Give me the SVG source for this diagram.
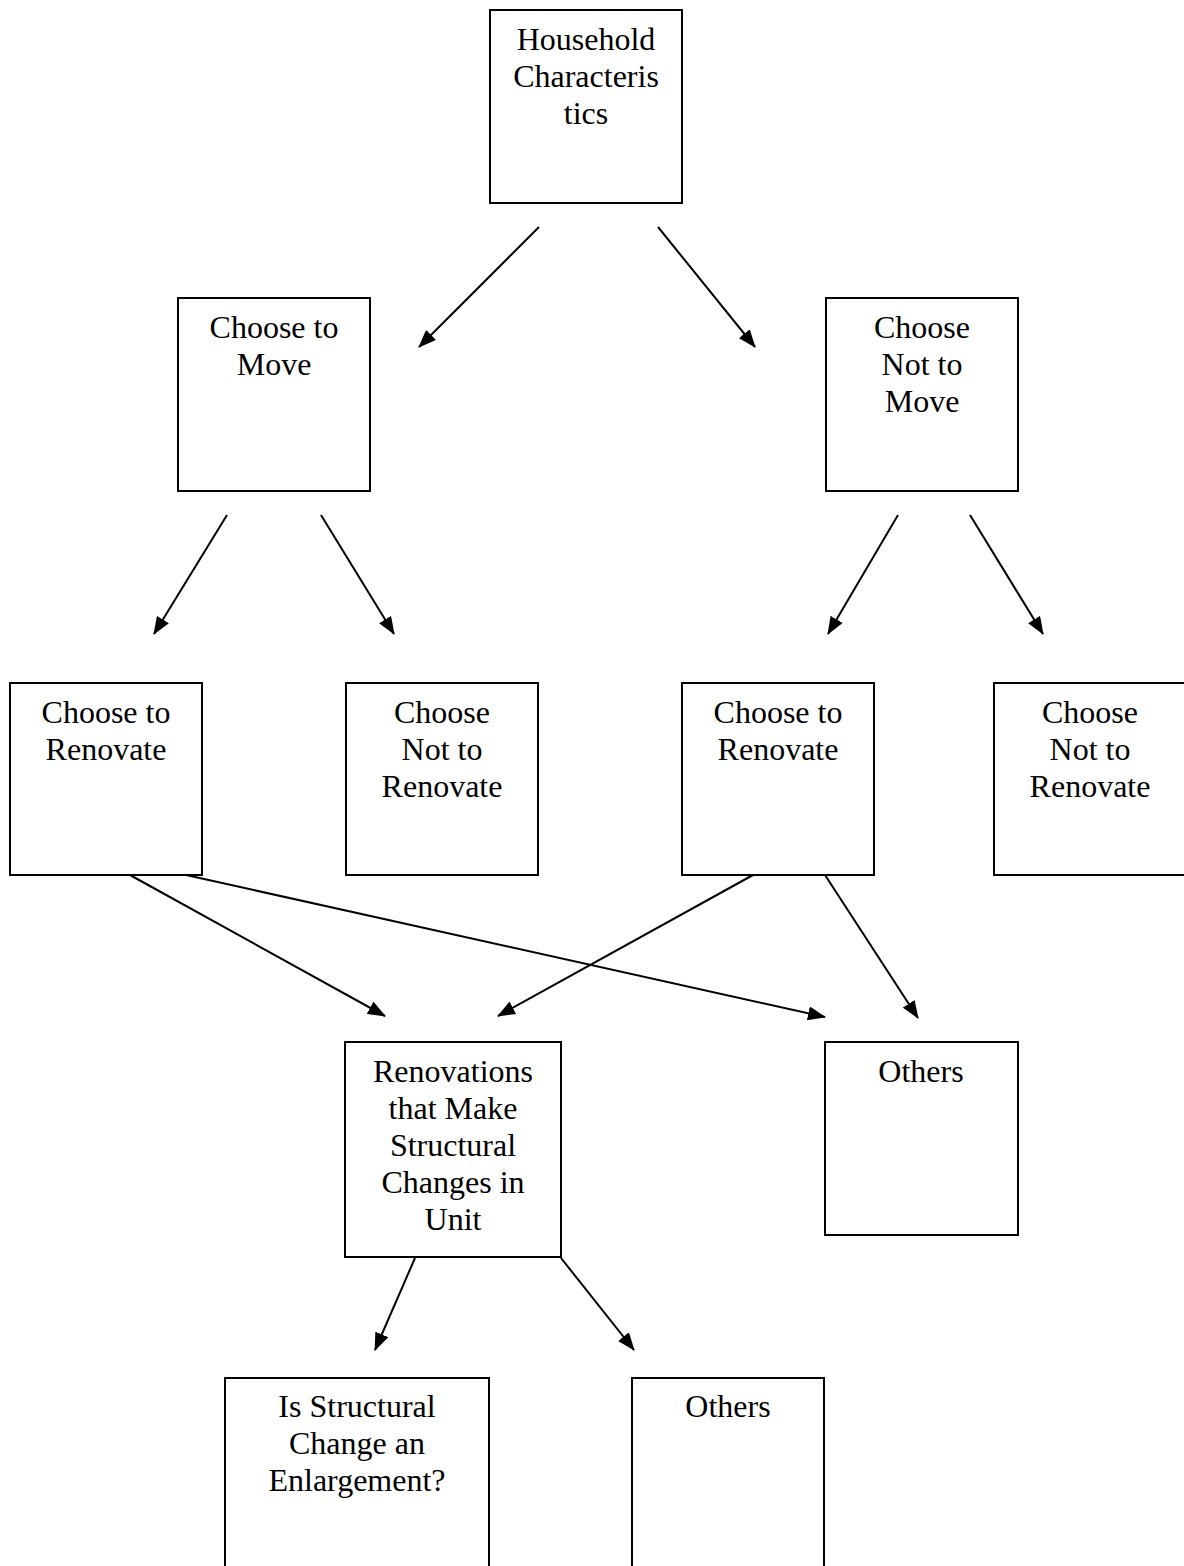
<svg xmlns="http://www.w3.org/2000/svg" width="1184" height="1566" viewBox="0 0 1184 1566">
<style>
.box{fill:#fff;stroke:#000;stroke-width:2}
.lbl{font-family:"Liberation Serif","Times New Roman","DejaVu Serif",serif;font-size:32px;fill:#000;text-anchor:middle}
.edge{stroke:#000;stroke-width:2;fill:none;marker-end:url(#ah)}
</style>
<defs>
<marker id="ah" markerWidth="18" markerHeight="14" refX="17" refY="7" orient="auto" markerUnits="userSpaceOnUse">
<path d="M0,0 L18,7 L0,14 z" fill="#000"/>
</marker>
</defs>
<rect width="1184" height="1566" fill="#fff"/>
<g id="connectors">
<line class="edge" x1="539" y1="227" x2="419" y2="347"/>
<line class="edge" x1="658" y1="227" x2="755" y2="347"/>
<line class="edge" x1="227" y1="515" x2="154" y2="634"/>
<line class="edge" x1="321" y1="515" x2="394" y2="634"/>
<line class="edge" x1="898" y1="515" x2="828" y2="634"/>
<line class="edge" x1="970" y1="515" x2="1043" y2="634"/>
<line class="edge" x1="130" y1="875" x2="385" y2="1016"/>
<line class="edge" x1="177" y1="873" x2="825" y2="1017"/>
<line class="edge" x1="753" y1="875" x2="498" y2="1016"/>
<line class="edge" x1="825" y1="875" x2="918" y2="1018"/>
<line class="edge" x1="415" y1="1258" x2="375" y2="1350"/>
<line class="edge" x1="561" y1="1258" x2="634" y2="1350"/>
</g>
<g id="household">
<rect class="box" x="490" y="10" width="192" height="193"/>
<text class="lbl" x="586" y="50">Household</text>
<text class="lbl" x="586" y="87">Characteris</text>
<text class="lbl" x="586" y="124">tics</text>
</g>
<g id="move">
<rect class="box" x="178" y="298" width="192" height="193"/>
<text class="lbl" x="274" y="338">Choose to</text>
<text class="lbl" x="274" y="375">Move</text>
</g>
<g id="notmove">
<rect class="box" x="826" y="298" width="192" height="193"/>
<text class="lbl" x="922" y="338">Choose</text>
<text class="lbl" x="922" y="375">Not to</text>
<text class="lbl" x="922" y="412">Move</text>
</g>
<g id="renovate1">
<rect class="box" x="10" y="683" width="192" height="192"/>
<text class="lbl" x="106" y="723">Choose to</text>
<text class="lbl" x="106" y="760">Renovate</text>
</g>
<g id="notrenovate1">
<rect class="box" x="346" y="683" width="192" height="192"/>
<text class="lbl" x="442" y="723">Choose</text>
<text class="lbl" x="442" y="760">Not to</text>
<text class="lbl" x="442" y="797">Renovate</text>
</g>
<g id="renovate2">
<rect class="box" x="682" y="683" width="192" height="192"/>
<text class="lbl" x="778" y="723">Choose to</text>
<text class="lbl" x="778" y="760">Renovate</text>
</g>
<g id="notrenovate2">
<rect class="box" x="994" y="683" width="192" height="192"/>
<text class="lbl" x="1090" y="723">Choose</text>
<text class="lbl" x="1090" y="760">Not to</text>
<text class="lbl" x="1090" y="797">Renovate</text>
</g>
<g id="structural">
<rect class="box" x="345" y="1042" width="216" height="215"/>
<text class="lbl" x="453" y="1082">Renovations</text>
<text class="lbl" x="453" y="1119">that Make</text>
<text class="lbl" x="453" y="1156">Structural</text>
<text class="lbl" x="453" y="1193">Changes in</text>
<text class="lbl" x="453" y="1230">Unit</text>
</g>
<g id="others1">
<rect class="box" x="825" y="1042" width="193" height="193"/>
<text class="lbl" x="921" y="1082">Others</text>
</g>
<g id="enlargement">
<rect class="box" x="225" y="1378" width="264" height="200"/>
<text class="lbl" x="357" y="1417">Is Structural</text>
<text class="lbl" x="357" y="1454">Change an</text>
<text class="lbl" x="357" y="1491">Enlargement?</text>
</g>
<g id="others2">
<rect class="box" x="632" y="1378" width="192" height="200"/>
<text class="lbl" x="728" y="1417">Others</text>
</g>
</svg>
